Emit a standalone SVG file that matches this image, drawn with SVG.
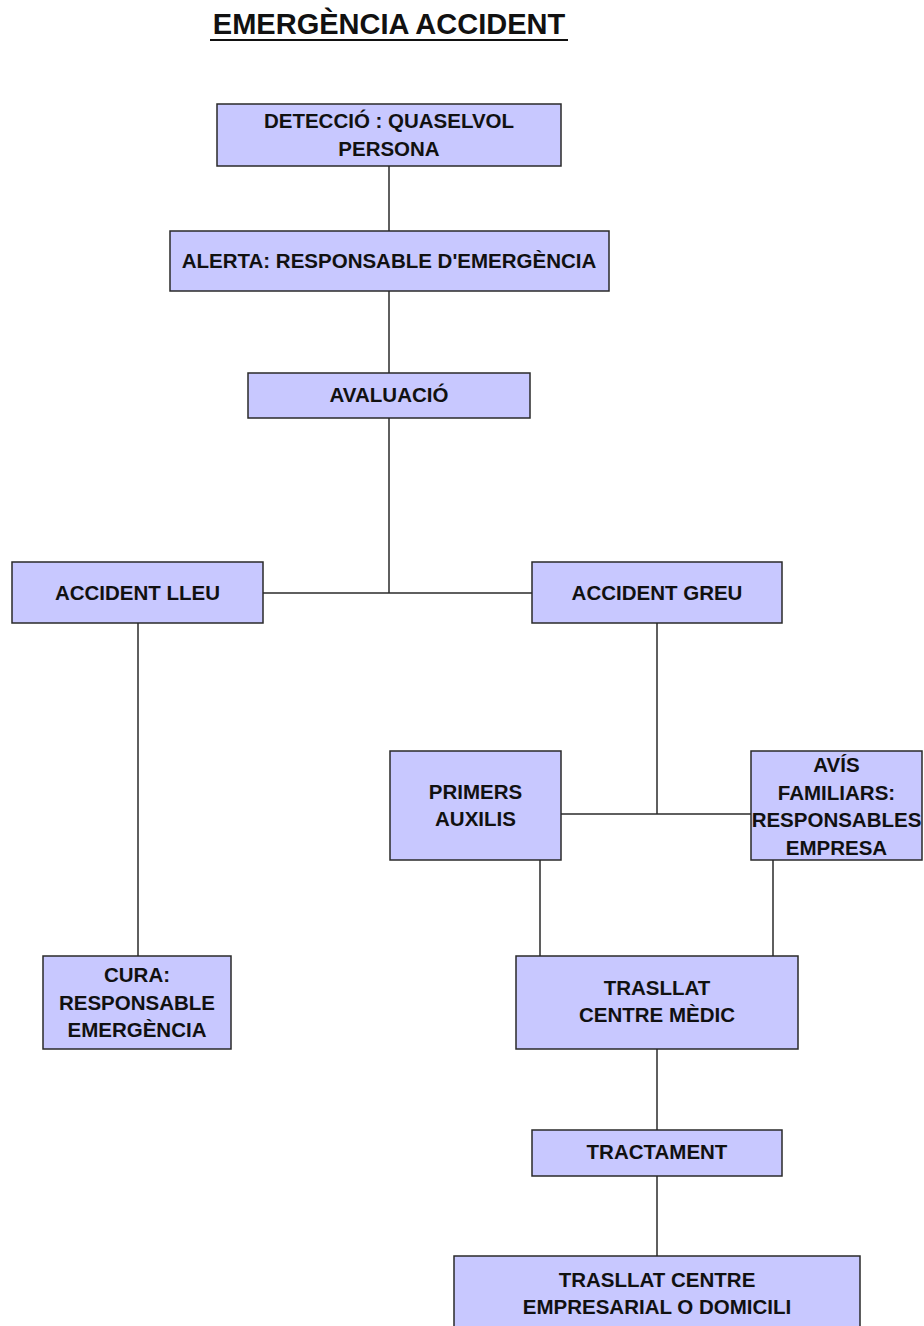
<svg xmlns="http://www.w3.org/2000/svg" width="924" height="1326" viewBox="0 0 924 1326">
<style>
.box{fill:#C8C8FF;stroke:#2a2a2a;stroke-width:1.5}
.t{font-family:"Liberation Sans",Arial,sans-serif;font-weight:bold;font-size:20.5px;fill:#111;text-anchor:middle}
.title{font-family:"Liberation Sans",Arial,sans-serif;font-weight:bold;font-size:29px;fill:#111;text-anchor:middle}
.c{stroke:#2a2a2a;stroke-width:1.5;fill:none}
</style>
<rect width="924" height="1326" fill="#ffffff"/>
<g id="title">
<text class="title" x="389" y="34">EMERGÈNCIA ACCIDENT</text>
<line x1="210" y1="40" x2="568" y2="40" stroke="#111" stroke-width="2"/>
</g>
<g id="connectors">
<path class="c" d="M389,166 V231"/>
<path class="c" d="M389,291 V373"/>
<path class="c" d="M389,418 V593"/>
<path class="c" d="M263,593 H532"/>
<path class="c" d="M138,623 V956"/>
<path class="c" d="M657,623 V814"/>
<path class="c" d="M561,814 H751"/>
<path class="c" d="M540,860 V956"/>
<path class="c" d="M773,860 V956"/>
<path class="c" d="M657,1049 V1130"/>
<path class="c" d="M657,1176 V1256"/>
</g>
<g id="n-deteccio">
<rect class="box" x="217" y="104" width="344" height="62"/>
<text class="t" x="389" y="128">DETECCIÓ : QUASELVOL</text>
<text class="t" x="389" y="156">PERSONA</text>
</g>
<g id="n-alerta">
<rect class="box" x="170" y="231" width="439" height="60"/>
<text class="t" x="389" y="268">ALERTA: RESPONSABLE D'EMERGÈNCIA</text>
</g>
<g id="n-avaluacio">
<rect class="box" x="248" y="373" width="282" height="45"/>
<text class="t" x="389" y="402">AVALUACIÓ</text>
</g>
<g id="n-lleu">
<rect class="box" x="12" y="562" width="251" height="61"/>
<text class="t" x="137.5" y="600">ACCIDENT LLEU</text>
</g>
<g id="n-greu">
<rect class="box" x="532" y="562" width="250" height="61"/>
<text class="t" x="657" y="600">ACCIDENT GREU</text>
</g>
<g id="n-cura">
<rect class="box" x="43" y="956" width="188" height="93"/>
<text class="t" x="137" y="982">CURA:</text>
<text class="t" x="137" y="1010">RESPONSABLE</text>
<text class="t" x="137" y="1037">EMERGÈNCIA</text>
</g>
<g id="n-primers">
<rect class="box" x="390" y="751" width="171" height="109"/>
<text class="t" x="475.5" y="799">PRIMERS</text>
<text class="t" x="475.5" y="826">AUXILIS</text>
</g>
<g id="n-avis">
<rect class="box" x="751" y="751" width="171" height="109"/>
<text class="t" x="836.5" y="772">AVÍS</text>
<text class="t" x="836.5" y="800">FAMILIARS:</text>
<text class="t" x="836.5" y="827">RESPONSABLES</text>
<text class="t" x="836.5" y="855">EMPRESA</text>
</g>
<g id="n-trasllat">
<rect class="box" x="516" y="956" width="282" height="93"/>
<text class="t" x="657" y="995">TRASLLAT</text>
<text class="t" x="657" y="1022">CENTRE MÈDIC</text>
</g>
<g id="n-tractament">
<rect class="box" x="532" y="1130" width="250" height="46"/>
<text class="t" x="657" y="1159">TRACTAMENT</text>
</g>
<g id="n-trasllat-centre">
<rect class="box" x="454" y="1256" width="406" height="90"/>
<text class="t" x="657" y="1287">TRASLLAT CENTRE</text>
<text class="t" x="657" y="1314">EMPRESARIAL O DOMICILI</text>
</g>
</svg>
